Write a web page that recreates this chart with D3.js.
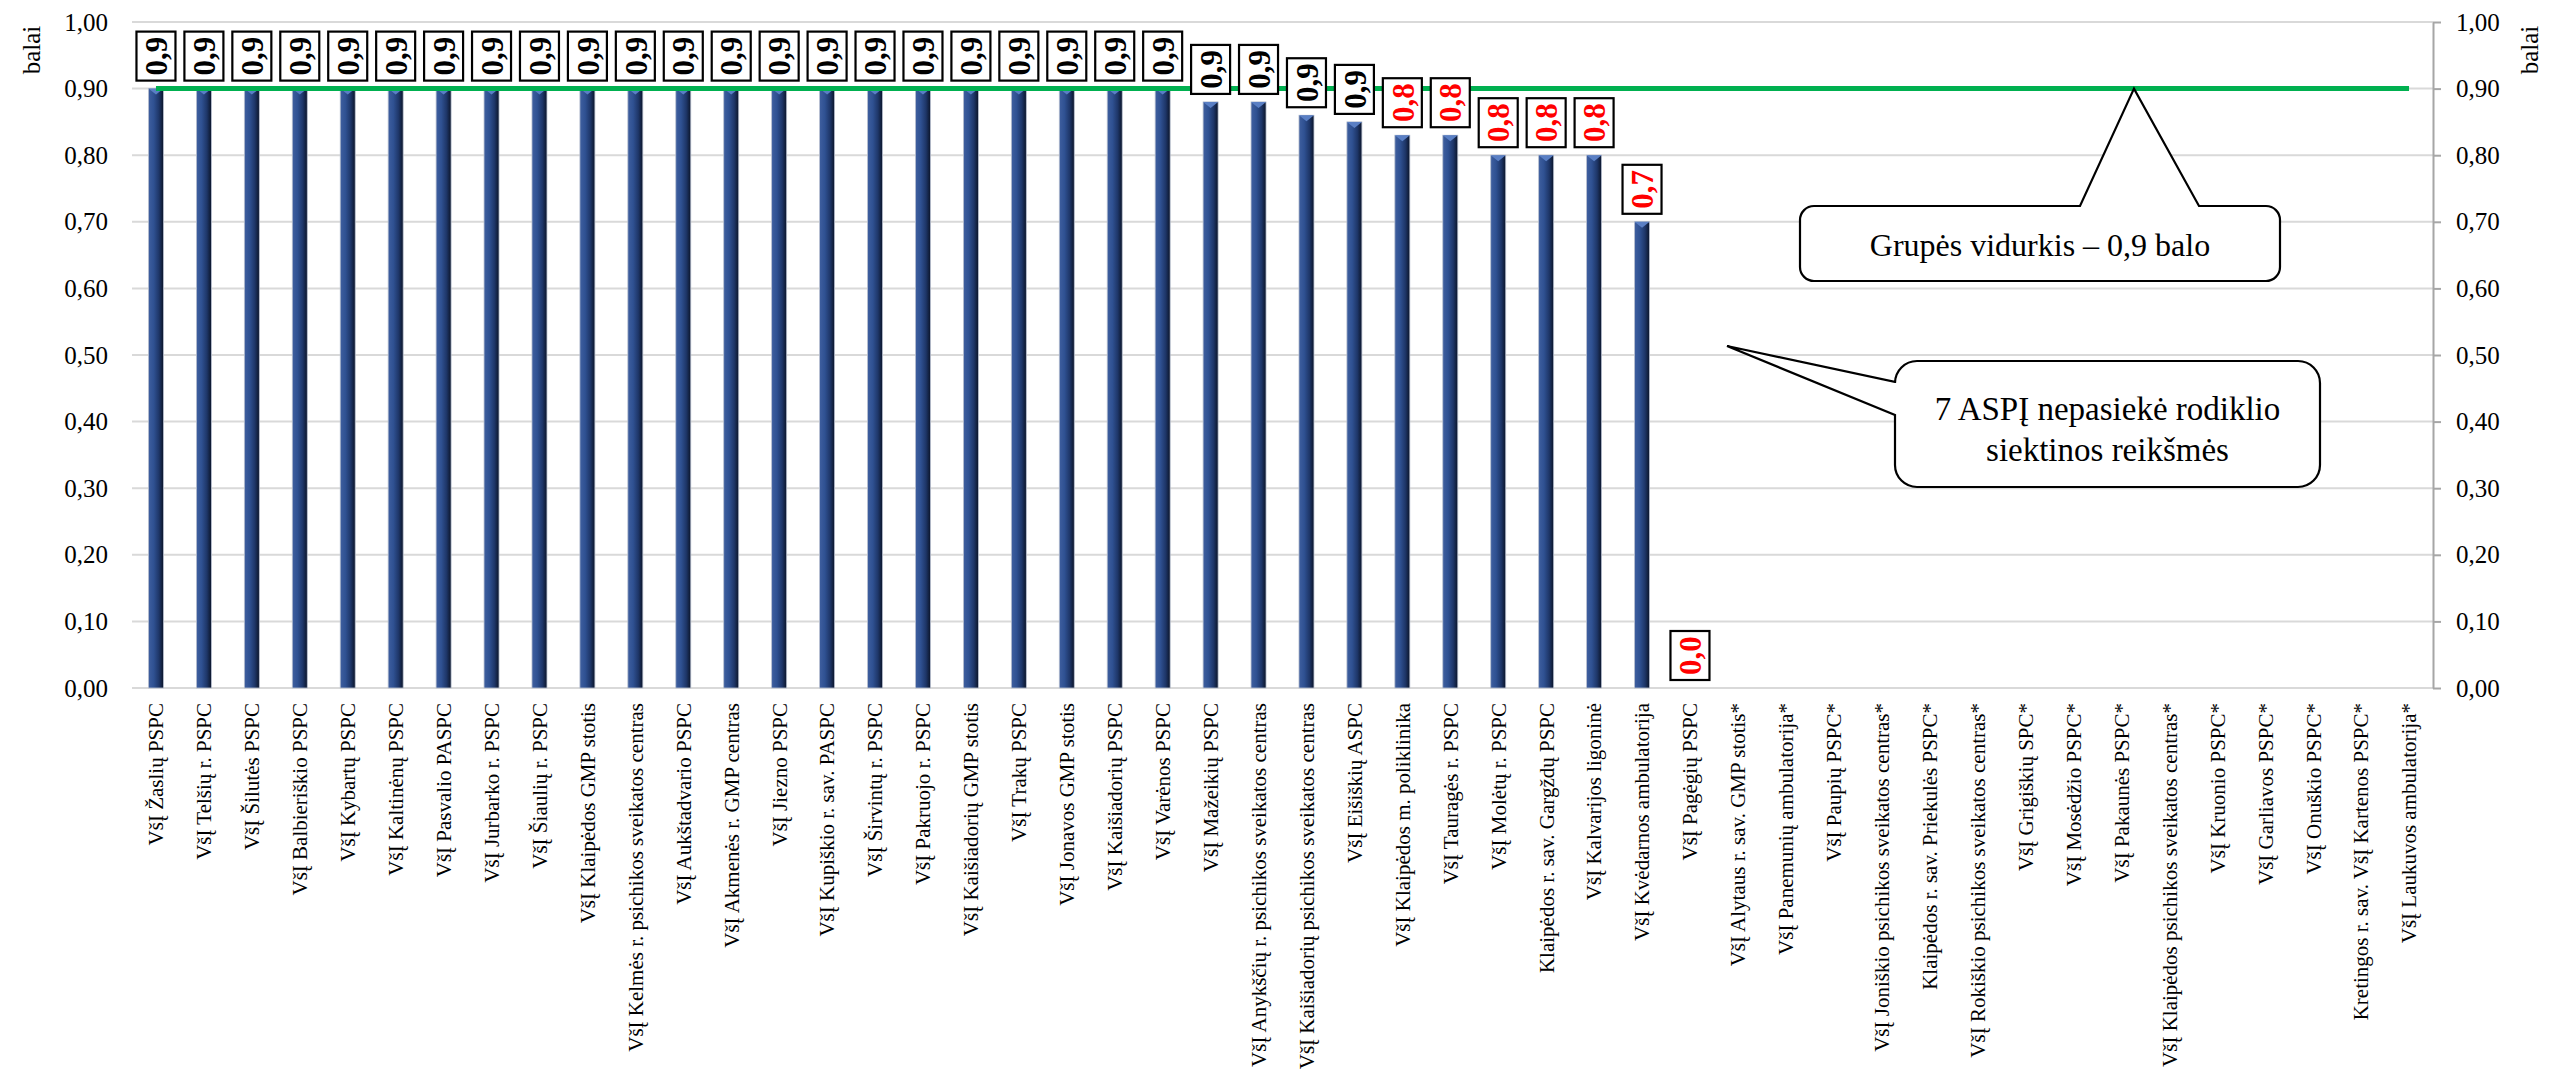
<!DOCTYPE html>
<html>
<head>
<meta charset="utf-8">
<script src="https://cdn.jsdelivr.net/npm/d3@7"></script>
<style>
  html, body { margin: 0; padding: 0; background: #fff; }
  svg { display: block; }
  svg text { font-family: "Liberation Serif", "Times New Roman", Tinos, "DejaVu Serif", serif !important; }
</style>
</head>
<body>
<svg id="chart" width="2552" height="1072"></svg>
<script>
const categories = [
  "VšĮ Žaslių PSPC",
  "VšĮ Telšių r. PSPC",
  "VšĮ Šilutės PSPC",
  "VšĮ Balbieriškio PSPC",
  "VšĮ Kybartų PSPC",
  "VšĮ Kaltinėnų PSPC",
  "VšĮ Pasvalio PASPC",
  "VšĮ Jurbarko r. PSPC",
  "VšĮ Šiaulių r. PSPC",
  "VšĮ Klaipėdos GMP stotis",
  "VšĮ Kelmės r. psichikos sveikatos centras",
  "VšĮ Aukštadvario PSPC",
  "VšĮ Akmenės r. GMP centras",
  "VšĮ Jiezno PSPC",
  "VšĮ Kupiškio r. sav. PASPC",
  "VšĮ Širvintų r. PSPC",
  "VšĮ Pakruojo r. PSPC",
  "VšĮ Kaišiadorių GMP stotis",
  "VšĮ Trakų PSPC",
  "VšĮ Jonavos GMP stotis",
  "VšĮ Kaišiadorių PSPC",
  "VšĮ Varėnos PSPC",
  "VšĮ Mažeikių PSPC",
  "VšĮ Anykščių r. psichikos sveikatos centras",
  "VšĮ Kaišiadorių psichikos sveikatos centras",
  "VšĮ Eišiškių ASPC",
  "VšĮ Klaipėdos m. poliklinika",
  "VšĮ Tauragės r. PSPC",
  "VšĮ Molėtų r. PSPC",
  "Klaipėdos r. sav. Gargždų PSPC",
  "VšĮ Kalvarijos ligoninė",
  "VšĮ Kvėdarnos ambulatorija",
  "VšĮ Pagėgių PSPC",
  "VšĮ Alytaus r. sav. GMP stotis*",
  "VšĮ Panemunių ambulatorija*",
  "VšĮ Paupių PSPC*",
  "VšĮ Joniškio psichikos sveikatos centras*",
  "Klaipėdos r. sav. Priekulės PSPC*",
  "VšĮ Rokiškio psichikos sveikatos centras*",
  "VšĮ Grigiškių SPC*",
  "VšĮ Mosėdžio PSPC*",
  "VšĮ Pakaunės PSPC*",
  "VšĮ Klaipėdos psichikos sveikatos centras*",
  "VšĮ Kruonio PSPC*",
  "VšĮ Garliavos PSPC*",
  "VšĮ Onuškio PSPC*",
  "Kretingos r. sav. VšĮ Kartenos PSPC*",
  "VšĮ Laukuvos ambulatorija*"
];

// null = no data (institutions marked with *)
const values = [
  0.90, 0.90, 0.90, 0.90, 0.90, 0.90, 0.90, 0.90, 0.90, 0.90,
  0.90, 0.90, 0.90, 0.90, 0.90, 0.90, 0.90, 0.90, 0.90, 0.90,
  0.90, 0.90, 0.88, 0.88, 0.86, 0.85, 0.83, 0.83, 0.80, 0.80,
  0.80, 0.70, 0.00,
  null, null, null, null, null, null, null, null, null, null, null, null, null, null, null
];

const groupAverage = 0.9;
const averageSeries = categories.map(() => groupAverage);

const yTicks = [0, 0.1, 0.2, 0.3, 0.4, 0.5, 0.6, 0.7, 0.8, 0.9, 1.0];
const axisTitle = "balai";
const calloutAverageText = "Grupės vidurkis – 0,9 balo";
const calloutFailLines = ["7 ASPĮ nepasiekė rodiklio", "siektinos reikšmės"];

const svg = d3.select("#chart");

const plot = { left: 132, right: 2433, top: 22, bottom: 688 };

const x = d3.scaleBand().domain(categories).range([plot.left, plot.right]).padding(0);
const y = d3.scaleLinear().domain([0, 1]).range([plot.bottom, plot.top]);
const cx = d => x(d) + x.bandwidth() / 2;
const fmt = v => v.toFixed(2).replace(".", ",");
const round1 = v => Math.round(v * 10 + 1e-9) / 10;
const fmt1 = v => round1(v).toFixed(1).replace(".", ",");

// gradient for cylinder-like bars
const defs = svg.append("defs");
const grad = defs.append("linearGradient").attr("id", "barGrad")
  .attr("x1", "0%").attr("x2", "100%").attr("y1", "0%").attr("y2", "0%");
grad.append("stop").attr("offset", "0%").attr("stop-color", "#3f5f9f");
grad.append("stop").attr("offset", "35%").attr("stop-color", "#2f5192");
grad.append("stop").attr("offset", "70%").attr("stop-color", "#1e3668");
grad.append("stop").attr("offset", "100%").attr("stop-color", "#0b1428");

// gridlines
svg.append("g").selectAll("line").data(yTicks).join("line")
  .attr("x1", plot.left).attr("x2", plot.right)
  .attr("y1", d => y(d)).attr("y2", d => y(d))
  .attr("stroke", "#d9d9d9").attr("stroke-width", 2);

// left axis labels
const leftAxis = svg.append("g").attr("transform", `translate(${plot.left},0)`)
  .call(d3.axisLeft(y).tickValues(yTicks).tickFormat(fmt).tickSize(0).tickPadding(24));
leftAxis.select(".domain").remove();
leftAxis.selectAll("text").attr("font-size", 25).attr("fill", "#000");

// right axis
const rightAxis = svg.append("g").attr("transform", `translate(${plot.right},0)`)
  .call(d3.axisRight(y).tickValues(yTicks).tickFormat(fmt).tickSize(8).tickSizeOuter(0).tickPadding(15));
rightAxis.select(".domain").attr("stroke", "#a6a6a6").attr("stroke-width", 2);
rightAxis.selectAll(".tick line").attr("stroke", "#a6a6a6").attr("stroke-width", 2);
rightAxis.selectAll("text").attr("font-size", 25).attr("fill", "#000");

// axis titles
svg.append("text").attr("transform", `translate(40,50) rotate(-90)`)
  .attr("text-anchor", "middle").attr("font-size", 25).text(axisTitle);
svg.append("text").attr("transform", `translate(2538,50) rotate(-90)`)
  .attr("text-anchor", "middle").attr("font-size", 25).text(axisTitle);

// category labels
const bottomAxis = svg.append("g").attr("transform", `translate(0,${plot.bottom})`)
  .call(d3.axisBottom(x).tickSize(0));
bottomAxis.select(".domain").remove();
bottomAxis.selectAll("text")
  .attr("transform", "rotate(-90)")
  .attr("x", -15).attr("y", 0).attr("dy", "0.35em")
  .attr("text-anchor", "end")
  .attr("font-size", 21).attr("fill", "#000");

// bars
const barW = 15;
const data = categories.map((c, i) => ({ c, v: values[i] })).filter(d => d.v !== null);
const bars = svg.append("g");
bars.selectAll("rect").data(data.filter(d => d.v > 0)).join("rect")
  .attr("x", d => cx(d.c) - barW / 2).attr("width", barW)
  .attr("y", d => y(d.v)).attr("height", d => y(0) - y(d.v))
  .attr("fill", "url(#barGrad)").attr("stroke", "#b8c0d0").attr("stroke-width", 0.8);
bars.selectAll("path.bevel").data(data.filter(d => d.v > 0)).join("path")
  .attr("class", "bevel")
  .attr("d", d => `M${cx(d.c) - barW / 2},${y(d.v)} L${cx(d.c) + barW / 2},${y(d.v)} L${cx(d.c)},${y(d.v) + 6} Z`)
  .attr("fill", "#5a7fc4");

// average line
svg.append("path").datum(averageSeries)
  .attr("d", d3.line().x((d, i) => cx(categories[i])).y(d => y(d)))
  .attr("fill", "none").attr("stroke", "#00b050").attr("stroke-width", 5);

// data labels
const boxW = 39, boxH = 49, gap = 8;
const labels = svg.append("g").selectAll("g").data(data).join("g");
labels.append("rect")
  .attr("x", d => cx(d.c) - boxW / 2).attr("y", d => y(d.v) - gap - boxH)
  .attr("width", boxW).attr("height", boxH)
  .attr("fill", "#fff").attr("stroke", "#000").attr("stroke-width", 2.2);
labels.append("text")
  .attr("transform", d => `translate(${cx(d.c)},${y(d.v) - gap - boxH / 2}) rotate(-90)`)
  .attr("text-anchor", "middle").attr("dy", "0.36em")
  .attr("font-weight", "bold").attr("font-size", 31)
  .attr("fill", d => (round1(d.v) < groupAverage ? "#ff0000" : "#000"))
  .text(d => fmt1(d.v));

function roundedCallout(bx, by, bw, bh, r, pointer) {
  const p = d3.path();
  p.moveTo(bx + r, by);
  if (pointer.side === "top") {
    p.lineTo(pointer.a, by); p.lineTo(pointer.tx, pointer.ty); p.lineTo(pointer.b, by);
  }
  p.lineTo(bx + bw - r, by);
  p.arcTo(bx + bw, by, bx + bw, by + r, r);
  p.lineTo(bx + bw, by + bh - r);
  p.arcTo(bx + bw, by + bh, bx + bw - r, by + bh, r);
  p.lineTo(bx + r, by + bh);
  p.arcTo(bx, by + bh, bx, by + bh - r, r);
  if (pointer.side === "left") {
    p.lineTo(bx, pointer.b); p.lineTo(pointer.tx, pointer.ty); p.lineTo(bx, pointer.a);
  }
  p.lineTo(bx, by + r);
  p.arcTo(bx, by, bx + r, by, r);
  p.closePath();
  return p.toString();
}

// callout 1: group average
const c1 = { x: 1800, y: 206, w: 480, h: 75 };
svg.append("path")
  .attr("d", roundedCallout(c1.x, c1.y, c1.w, c1.h, 14,
    { side: "top", a: 2080, b: 2199, tx: 2134, ty: y(groupAverage) }))
  .attr("fill", "#fff").attr("stroke", "#000").attr("stroke-width", 2.2);
svg.append("text").attr("x", c1.x + c1.w / 2).attr("y", c1.y + 50)
  .attr("text-anchor", "middle").attr("font-size", 32).text(calloutAverageText);

// callout 2: not reached
const c2 = { x: 1895, y: 361, w: 425, h: 126 };
svg.append("path")
  .attr("d", roundedCallout(c2.x, c2.y, c2.w, c2.h, 22,
    { side: "left", a: 382, b: 415, tx: 1727, ty: 346 }))
  .attr("fill", "#fff").attr("stroke", "#000").attr("stroke-width", 2.2);
svg.append("text").attr("text-anchor", "middle").attr("font-size", 33)
  .selectAll("tspan").data(calloutFailLines).join("tspan")
  .attr("x", c2.x + c2.w / 2).attr("y", (d, i) => c2.y + 59 + i * 41)
  .text(d => d);
</script>
</body>
</html>
